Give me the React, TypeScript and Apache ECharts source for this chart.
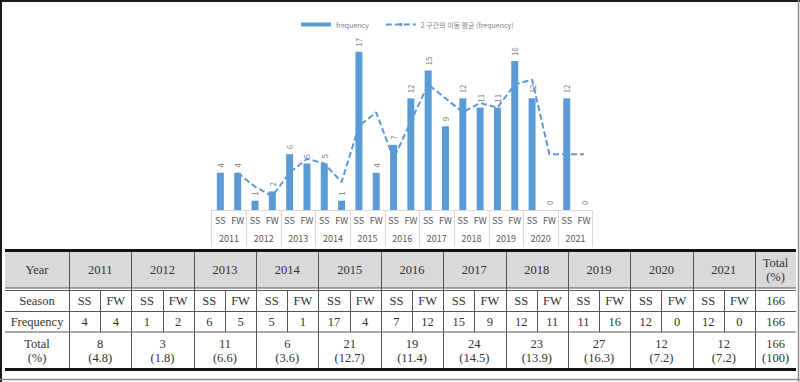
import React, { useEffect, useRef } from "react";
import * as echarts from "echarts";

const years = ["2011", "2012", "2013", "2014", "2015", "2016", "2017", "2018", "2019", "2020", "2021"];
const seasons = ["SS", "FW"];
const frequency = [4, 4, 1, 2, 6, 5, 5, 1, 17, 4, 7, 12, 15, 9, 12, 11, 11, 16, 12, 0, 12, 0];
const movingAverage = [null, 4, 2.5, 1.5, 4, 5.5, 5, 3, 9, 10.5, 5.5, 9.5, 13.5, 12, 10.5, 11.5, 11, 13.5, 14, 6, 6, 6];
const yearTotals = [8, 3, 11, 6, 21, 19, 24, 23, 27, 12, 12];
const yearPercents = ["4.8", "1.8", "6.6", "3.6", "12.7", "11.4", "14.5", "13.9", "16.3", "7.2", "7.2"];
const grandTotal = "166";
const grandPercent = "100";
const legendNames = ["frequency", "2 구간의 이동 평균 (frequency)"];
const rowLabels = ["Year", "Season", "Frequency", "Total", "(%)"];
const totalHeader = ["Total", "(%)"];

const BLUE = "#5b9bd5";
const CJK = "Noto Sans CJK KR";
const SERIF = "Liberation Serif";

function buildTable(): any[] {
  const els: any[] = [];
  const L = 5;
  const R = 796;
  const c1 = 69;
  const cEnd = 755;
  const yw = (cEnd - c1) / years.length;
  const yTop = 250.5;
  const yHeadBot = 288;
  const yDouble = 290.5;
  const ySeasonBot = 311.5;
  const yFreqBot = 332;
  const yBot = 369.5;
  const dark = "#555";
  const txt = (text: string, x: number, y: number) => ({
    type: "text",
    x,
    y,
    silent: true,
    style: {
      text,
      fill: "#333",
      fontFamily: SERIF,
      fontSize: 12.5,
      align: "center",
      verticalAlign: "middle",
    },
  });
  const ln = (x1: number, y1: number, x2: number, y2: number, w: number, c: string) => ({
    type: "line",
    silent: true,
    shape: { x1, y1, x2, y2 },
    style: { stroke: c, lineWidth: w },
  });

  els.push({
    type: "rect",
    silent: true,
    shape: { x: L, y: 252, width: R - L, height: yHeadBot - 252 },
    style: { fill: "#d9d9d9" },
  });
  els.push(ln(L, yTop, R, yTop, 3, "#111"));
  els.push(ln(L, yHeadBot, R, yHeadBot, 1, dark));
  els.push(ln(L, yDouble, R, yDouble, 1, dark));
  els.push(ln(L, ySeasonBot, R, ySeasonBot, 1, dark));
  els.push(ln(L, yFreqBot, R, yFreqBot, 1, dark));
  els.push(ln(L, yBot, R, yBot, 3, "#111"));

  for (let i = 0; i <= years.length; i++) {
    const x = Math.round(c1 + i * yw) + 0.5;
    els.push(ln(x, 252, x, 368, 1, dark));
  }
  for (let i = 0; i < years.length; i++) {
    const x = Math.round(c1 + i * yw + yw / 2) + 0.5;
    els.push(ln(x, yDouble, x, yFreqBot, 1, dark));
  }

  const col1c = (L + c1) / 2;
  const totc = (cEnd + R) / 2;
  const yHead = 270;
  const ySeason = 301;
  const yFreq = 321.5;
  const yT1 = 344;
  const yT2 = 357.5;

  els.push(txt(rowLabels[0], col1c, yHead));
  els.push(txt(rowLabels[1], col1c, ySeason));
  els.push(txt(rowLabels[2], col1c, yFreq));
  els.push(txt(rowLabels[3], col1c, yT1));
  els.push(txt(rowLabels[4], col1c, yT2));

  years.forEach((yr, i) => {
    const x0 = c1 + i * yw;
    const cx = x0 + yw / 2;
    els.push(txt(yr, cx, yHead));
    seasons.forEach((s, j) => {
      const sx = x0 + yw / 4 + (j * yw) / 2;
      els.push(txt(s, sx, ySeason));
      els.push(txt(String(frequency[i * 2 + j]), sx, yFreq));
    });
    els.push(txt(String(yearTotals[i]), cx, yT1));
    els.push(txt("(" + yearPercents[i] + ")", cx, yT2));
  });

  els.push(txt(totalHeader[0], totc, 263));
  els.push(txt(totalHeader[1], totc, 277));
  els.push(txt(grandTotal, totc, ySeason));
  els.push(txt(grandTotal, totc, yFreq));
  els.push(txt(grandTotal, totc, yT1));
  els.push(txt("(" + grandPercent + ")", totc, yT2));

  els.push(ln(0, 1, 800, 1, 2, "#1a1a1a"));
  els.push(ln(1, 0, 1, 382, 2, "#1a1a1a"));
  els.push(ln(798.5, 0, 798.5, 382, 1.5, "#8a8a8a"));
  els.push(ln(0, 379.5, 800, 379.5, 1.5, "#8a8a8a"));
  return els;
}

export default function App() {
  const ref = useRef<HTMLDivElement>(null);

  useEffect(() => {
    document.body.style.margin = "0";
    if (!ref.current) return;
    const chart = echarts.init(ref.current, undefined, { renderer: "svg" });
    const seasonCats: string[] = [];
    years.forEach((y) => seasons.forEach((s) => seasonCats.push(y + "|" + s)));

    chart.setOption({
      animation: false,
      backgroundColor: "#ffffff",
      legend: {
        left: 296,
        top: 16,
        itemWidth: 30,
        itemHeight: 4,
        itemGap: 16,
        textStyle: { fontSize: 7, color: "#7f7f7f", fontFamily: CJK },
        data: [
          { name: legendNames[0], icon: "rect" },
          { name: legendNames[1] },
        ],
      },
      grid: { left: 211.7, right: 207.3, top: 42.5, bottom: 172, containLabel: false },
      xAxis: [
        {
          type: "category",
          position: "bottom",
          data: seasonCats,
          axisLine: { show: false },
          axisTick: { show: false },
          axisLabel: {
            interval: 0,
            margin: 6,
            fontSize: 9,
            color: "#595959",
            fontFamily: CJK,
            formatter: (v: string) => v.split("|")[1],
          },
        },
        {
          type: "category",
          position: "bottom",
          data: years,
          axisLine: { show: true, lineStyle: { color: "#d9d9d9", width: 1 } },
          axisTick: { show: true, length: 37, interval: 0, lineStyle: { color: "#d9d9d9", width: 1 } },
          axisLabel: { interval: 0, margin: 24, fontSize: 9, color: "#595959", fontFamily: CJK },
        },
      ],
      yAxis: { type: "value", min: 0, max: 18, show: false, splitLine: { show: false } },
      series: [
        {
          name: legendNames[0],
          type: "bar",
          xAxisIndex: 0,
          data: frequency,
          barWidth: 7,
          itemStyle: { color: BLUE },
          label: {
            show: true,
            position: "top",
            rotate: 90,
            align: "left",
            verticalAlign: "middle",
            distance: 5,
            fontSize: 8,
            color: "#7f7f7f",
            fontFamily: CJK,
          },
        },
        {
          name: legendNames[1],
          type: "line",
          xAxisIndex: 0,
          data: movingAverage,
          symbol: "none",
          showSymbol: false,
          lineStyle: { color: BLUE, width: 2, type: [6, 3] },
          itemStyle: { color: BLUE },
          z: 3,
        },
      ],
      graphic: buildTable(),
    });
    return () => chart.dispose();
  }, []);

  return <div ref={ref} style={{ width: 800, height: 382 }} />;
}
